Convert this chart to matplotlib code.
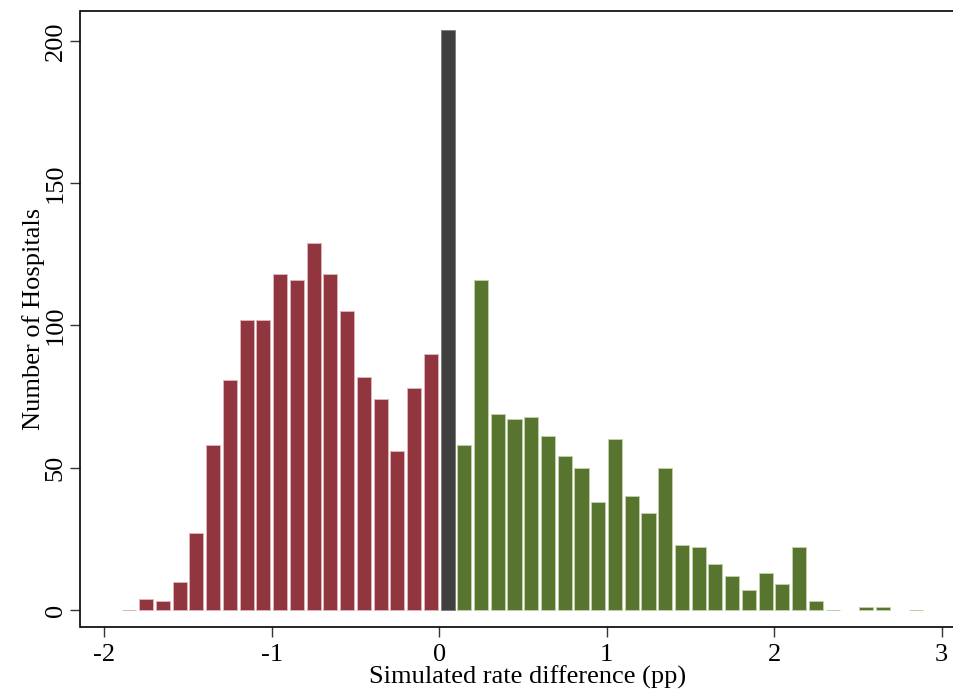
import numpy as np
import matplotlib
matplotlib.use("Agg")
import matplotlib.pyplot as plt

plt.rcParams['font.family'] = ['Liberation Serif', 'DejaVu Serif']
plt.rcParams['axes.unicode_minus'] = False

# histogram counts, bins of width 0.1
bin_width = 0.1
neg_start = -1.85
neg_counts = [0, 4, 3, 10, 27, 58, 81, 102, 102, 118, 116, 129, 118, 105,
              82, 74, 56, 78, 90]
zero_center = 0.05
zero_count = [204]
pos_start = 0.15
pos_counts = [58, 116, 69, 67, 68, 61, 54, 50, 38, 60, 40, 34, 50, 23, 22,
              16, 12, 7, 13, 9, 22, 3, 0, np.nan, 1, 1, np.nan, 0]

neg_x = neg_start + bin_width * np.arange(len(neg_counts))
pos_x = pos_start + bin_width * np.arange(len(pos_counts))

fig = plt.figure(figsize=(9.54, 7.0), dpi=100)
ax = fig.add_axes([80.5 / 954, 73 / 700, (975 - 80.5) / 954, (627 - 10.5) / 700])

w = 0.084
ax.bar(neg_x, neg_counts, width=w, color='#91353E', edgecolor='#DDB3B8', linewidth=0.7)
ax.bar([zero_center], zero_count, width=w, color='#404040', edgecolor='#808080', linewidth=0.7)
ax.bar(pos_x, pos_counts, width=w, color='#57752F', edgecolor='#BFD0A8', linewidth=0.7)

ax.set_xlim(-2.142, 3.2)
ax.set_ylim(-5.98, 210.7)
ax.set_xticks([-2, -1, 0, 1, 2, 3])
ax.set_yticks([0, 50, 100, 150, 200])
for lab in ax.get_yticklabels():
    lab.set_rotation(90)
    lab.set_va('center')
ax.tick_params(axis='both', labelsize=19, length=7, width=1, color='#333333')
ax.tick_params(axis='x', pad=5)
ax.tick_params(axis='y', pad=3)
for s in ax.spines.values():
    s.set_linewidth(1.2)

ax.set_xlabel('Simulated rate difference (pp)', fontsize=19, labelpad=0)
ax.set_ylabel('Number of Hospitals', fontsize=19, labelpad=0)

fig.savefig('out.png', dpi=100)
